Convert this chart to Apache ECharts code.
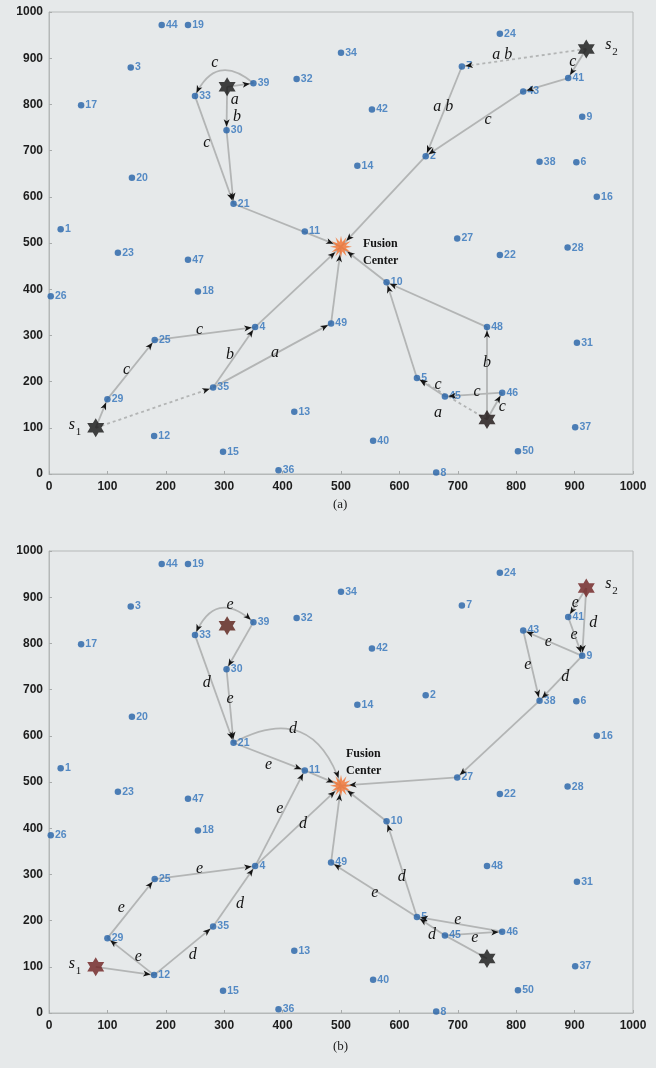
<!DOCTYPE html>
<html><head><meta charset="utf-8">
<script src="https://cdn.jsdelivr.net/npm/echarts@6/dist/echarts.min.js"></script>
<style>html,body{margin:0;padding:0;background:#e6e9ea;}#c{width:656px;height:1068px;}</style>
</head><body><div id="c"></div>
<script>
// ---- node positions (id = index+1) ----
const nodeX = [20,645,140,353,630,903,707,663,913,578,438,180,420,528,298,938,55,255,238,142,316,772,118,772,181,3,699,888,100,304,904,424,250,500,281,393,901,840,350,555,889,553,812,193,678,776,238,750,483,803];
const nodeY = [530,688,880,318,208,675,882,3,773,415,525,82,135,667,48,600,798,395,972,641,585,474,479,953,290,385,510,490,162,744,284,855,818,912,187,8,101,676,846,72,857,789,828,972,168,176,464,318,326,49];
// special points: sources / target stars / fusion center
const specialNames = ['S1','S2','TL','BR','FC'];
const specialX = [80, 920, 305, 750, 500];
const specialY = [100, 920, 838, 118, 492];
// axis ticks
const axisMin = 0, axisMax = 1000, axisStep = 100;

// ---- chart (a) ----
const edgesA = [['S1',35],[35,49],[49,'FC'],[35,4],[4,'FC'],['S1',29],[29,25],[25,4],
  ['TL',30],[30,21],['TL',39],[39,33],[33,21],[21,'FC'],
  ['S2',7],[7,2],[2,'FC'],['S2',41],[41,43],[43,2],
  ['BR',5],[5,10],[10,'FC'],['BR',48],[48,10],['BR',46],[46,45],[45,5]];
const dashedA = ['S1>35','S2>7','BR>5'];
const labelTextA = ['a','b','c','c','a','b','c','c','a b','a b','c','c','a','b','c','c','c'];
const labelXA = [387,310,133,258,318,322,284,270,776,675,752,897,666,750,666,733,776];
const labelYA = [262,258,225,312,810,773,890,716,907,795,766,892,132,240,193,177,145];
const starsA = ['S1','S2','TL','BR'];

// ---- chart (b) ----
const edgesB = [['S1',12],[12,29],[29,25],[25,4],[4,11],[11,'FC'],[12,35],[35,4],[4,'FC'],
  [33,39],[39,30],[33,21],[30,21],[21,'FC'],[21,11],
  ['S2',41],[41,9],['S2',9],[9,43],[43,38],[9,38],[38,27],[27,'FC'],
  [10,'FC'],[5,10],[49,'FC'],[5,49],[45,5],[46,5],[45,46],['BR',45]];
const labelTextB = ['e','e','e','e','d','d','d','e','d','e','d','e','e','d','e','e','e','d','d','e','e','d','e'];
const labelXB = [153,124,258,395,246,327,435,310,270,310,418,376,901,932,899,855,820,884,604,558,700,656,729];
const labelYB = [122,227,313,443,125,237,410,883,714,681,616,537,887,844,818,803,753,727,294,260,201,169,162];
const starsB = ['S1','S2','TL','BR'];

// ---- styling (kept apart from data) ----
const curveA = {'39>33': -0.65};
const curveB = {'33>39': 0.7, '21>FC': 0.6};
const bothArrowsB = ['33>39'];
const noArrowB = ['BR>45'];
const starColorA = {S1:'#141414', S2:'#141414', TL:'#141414', BR:'#1a1010'};
const starColorB = {S1:'#6e1f1f', S2:'#6e1f1f', TL:'#5a1e16', BR:'#141414'};
const gridTops = [12, 551];
const GRID_LEFT = 49, GRID_W = 584, GRID_H = 462;

function pt(k){
  if (typeof k === 'number') return [nodeX[k-1], nodeY[k-1]];
  const i = specialNames.indexOf(k); return [specialX[i], specialY[i]];
}
function gapFor(k){ return k === 'FC' ? 8 : (typeof k === 'number' ? 3.5 : 7); }

function edgeData(edges, dashed, curves, both, noArrow){
  return edges.map(([f,t]) => {
    const key = f + '>' + t;
    const a = pt(f), b = pt(t);
    return [a[0], a[1], b[0], b[1], curves[key] || 0, dashed.indexOf(key) >= 0 ? 1 : 0,
      both.indexOf(key) >= 0 ? 1 : 0, noArrow.indexOf(key) >= 0 ? 0 : 1, gapFor(f), gapFor(t)];
  });
}

function ctrl(p1, p2, c){
  return [(p1[0]+p2[0])/2 - (p1[1]-p2[1])*c, (p1[1]+p2[1])/2 - (p2[0]-p1[0])*c];
}
function arrowHead(tip, from, gap){
  const dx = tip[0]-from[0], dy = tip[1]-from[1];
  const L = Math.hypot(dx, dy) || 1, ux = dx/L, uy = dy/L;
  const tx = tip[0]-ux*gap, ty = tip[1]-uy*gap;
  const bx = tx-ux*7.5, by = ty-uy*7.5;
  const nx = tx-ux*5.5, ny = ty-uy*5.5;
  return {type:'polygon', shape:{points:[[tx,ty],[bx-uy*3,by+ux*3],[nx,ny],[bx+uy*3,by-ux*3]]},
    style:{fill:'#151515'}};
}
function edgeLineRender(params, api){
  const p1 = api.coord([api.value(0), api.value(1)]);
  const p2 = api.coord([api.value(2), api.value(3)]);
  const c = api.value(4);
  const style = {stroke:'#b3b5b5', lineWidth:1.8, fill:null, lineDash: api.value(5) ? [3,3] : null};
  if (c) {
    const cp = ctrl(p1, p2, c);
    return {type:'bezierCurve', shape:{x1:p1[0],y1:p1[1],x2:p2[0],y2:p2[1],cpx1:cp[0],cpy1:cp[1]}, style};
  }
  return {type:'line', shape:{x1:p1[0],y1:p1[1],x2:p2[0],y2:p2[1]}, style};
}
function edgeArrowRender(params, api){
  const p1 = api.coord([api.value(0), api.value(1)]);
  const p2 = api.coord([api.value(2), api.value(3)]);
  const c = api.value(4);
  const cp = c ? ctrl(p1, p2, c) : null;
  const children = [];
  if (api.value(7)) children.push(arrowHead(p2, cp || p1, api.value(9)));
  if (api.value(6)) children.push(arrowHead(p1, cp || p2, api.value(8)));
  return {type:'group', children};
}
function textRender(texts){
  return function(params, api){
    const p = api.coord([api.value(0), api.value(1)]);
    return {type:'text', x:p[0], y:p[1], style:{text:texts[params.dataIndex], fill:'#141414',
      font:'italic 16px "Liberation Serif", "DejaVu Serif", serif', align:'center', verticalAlign:'middle'}};
  };
}
function specialTextRender(side){
  return function(params, api){
    const p = api.coord([api.value(0), api.value(1)]);
    const k = params.dataIndex;
    const serif = '"Liberation Serif", "DejaVu Serif", serif';
    if (k === 0) { // s1
      return {type:'group', x:p[0], y:p[1], children:[
        {type:'text', x:-27, y:-3, style:{text:'s', font:'italic 16px '+serif, fill:'#141414', verticalAlign:'middle'}},
        {type:'text', x:-20, y:4, style:{text:'1', font:'11px '+serif, fill:'#141414', verticalAlign:'middle'}}]};
    }
    if (k === 1) { // s2
      return {type:'group', x:p[0], y:p[1], children:[
        {type:'text', x:19, y:-4, style:{text:'s', font:'italic 16px '+serif, fill:'#141414', verticalAlign:'middle'}},
        {type:'text', x:26, y:3, style:{text:'2', font:'11px '+serif, fill:'#141414', verticalAlign:'middle'}}]};
    }
    // fusion center label
    const off = side === 0 ? [22, -11] : [5, -40];
    return {type:'text', x:p[0]+off[0], y:p[1]+off[1], style:{text:'Fusion\nCenter',
      font:'bold 12px '+serif, fill:'#141414', lineHeight:17, align:'left', verticalAlign:'top'}};
  };
}

const hexPath = 'path://M10,0 L12.887,5 L18.66,5 L15.774,10 L18.66,15 L12.887,15 L10,20 L7.113,15 L1.34,15 L4.226,10 L1.34,5 L7.113,5 Z';
let burst = 'path://';
for (let i = 0; i < 24; i++) {
  const r = i % 2 ? 4.5 : 10, a = i*Math.PI/12 - Math.PI/2;
  burst += (i ? 'L' : 'M') + (10 + r*Math.cos(a)).toFixed(2) + ',' + (10 + r*Math.sin(a)).toFixed(2) + ' ';
}
burst += 'Z';

const nodeData = nodeX.map((x, i) => [x, nodeY[i], i+1]);

const grids = [], xAxes = [], yAxes = [], series = [];
const axisText = {color:'#1c1c1c', fontSize:12, fontWeight:'bold', fontFamily:'"Liberation Sans", Arial, sans-serif',
  formatter: v => String(v)};
[0,1].forEach(g => {
  grids.push({left:GRID_LEFT, top:gridTops[g], width:GRID_W, height:GRID_H, show:true,
    borderColor:'#b5b8b8', borderWidth:1, backgroundColor:'transparent'});
  xAxes.push({gridIndex:g, type:'value', min:axisMin, max:axisMax, interval:axisStep,
    axisLine:{show:true, onZero:false, lineStyle:{color:'#b5b8b8'}}, axisTick:{show:true, inside:true, length:3, lineStyle:{color:'#a8abab'}},
    splitLine:{show:false}, axisLabel:Object.assign({margin:7}, axisText)});
  yAxes.push({gridIndex:g, type:'value', min:axisMin, max:axisMax, interval:axisStep,
    axisLine:{show:true, onZero:false, lineStyle:{color:'#b5b8b8'}}, axisTick:{show:true, inside:true, length:3, lineStyle:{color:'#a8abab'}},
    splitLine:{show:false}, axisLabel:Object.assign({margin:6}, axisText)});

  const edges = g === 0 ? edgeData(edgesA, dashedA, curveA, [], []) : edgeData(edgesB, [], curveB, bothArrowsB, noArrowB);
  const lx = g === 0 ? labelXA : labelXB, ly = g === 0 ? labelYA : labelYB, lt = g === 0 ? labelTextA : labelTextB;
  const stars = g === 0 ? starsA : starsB, sc = g === 0 ? starColorA : starColorB;
  const common = {xAxisIndex:g, yAxisIndex:g};

  series.push(Object.assign({type:'custom', coordinateSystem:'cartesian2d', renderItem:edgeLineRender,
    data:edges, z:1, silent:true, clip:false}, common));
  series.push(Object.assign({type:'scatter', data:nodeData, symbol:'circle', symbolSize:6.5, z:2, silent:true,
    itemStyle:{color:'#2461a8'},
    label:{show:true, position:'right', distance:1, formatter:p => p.data[2], color:'#3072ba',
      fontSize:10.5, fontWeight:'bold', fontFamily:'"Liberation Sans", Arial, sans-serif'}}, common));
  series.push(Object.assign({type:'custom', coordinateSystem:'cartesian2d', renderItem:edgeArrowRender,
    data:edges, z:3, silent:true, clip:false}, common));
  series.push(Object.assign({type:'scatter', symbol:hexPath, symbolSize:[17,19], symbolKeepAspect:false, z:4, silent:true,
    data:stars.map(k => ({value:pt(k), itemStyle:{color:sc[k]}}))}, common));
  series.push(Object.assign({type:'scatter', symbol:burst, symbolSize:22, z:4, silent:true,
    data:[{value:pt('FC'), itemStyle:{color:'#f2702e'}}]}, common));
  series.push(Object.assign({type:'custom', coordinateSystem:'cartesian2d', renderItem:textRender(lt),
    data:lx.map((x, i) => [x, ly[i]]), z:5, silent:true, clip:false}, common));
  series.push(Object.assign({type:'custom', coordinateSystem:'cartesian2d', renderItem:specialTextRender(g),
    data:[pt('S1'), pt('S2'), pt('FC')], z:5, silent:true, clip:false}, common));
});

const chart = echarts.init(document.getElementById('c'), null, {renderer:'canvas'});
chart.setOption({
  animation:false,
  backgroundColor:'#e6e9ea',
  grid:grids, xAxis:xAxes, yAxis:yAxes, series,
  graphic:[
    {type:'text', left:333, top:498, style:{text:'(a)', font:'13px "Liberation Serif", serif', fill:'#1c1c1c'}},
    {type:'text', left:333, top:1040, style:{text:'(b)', font:'13px "Liberation Serif", serif', fill:'#1c1c1c'}}
  ]
});
</script></body></html>
